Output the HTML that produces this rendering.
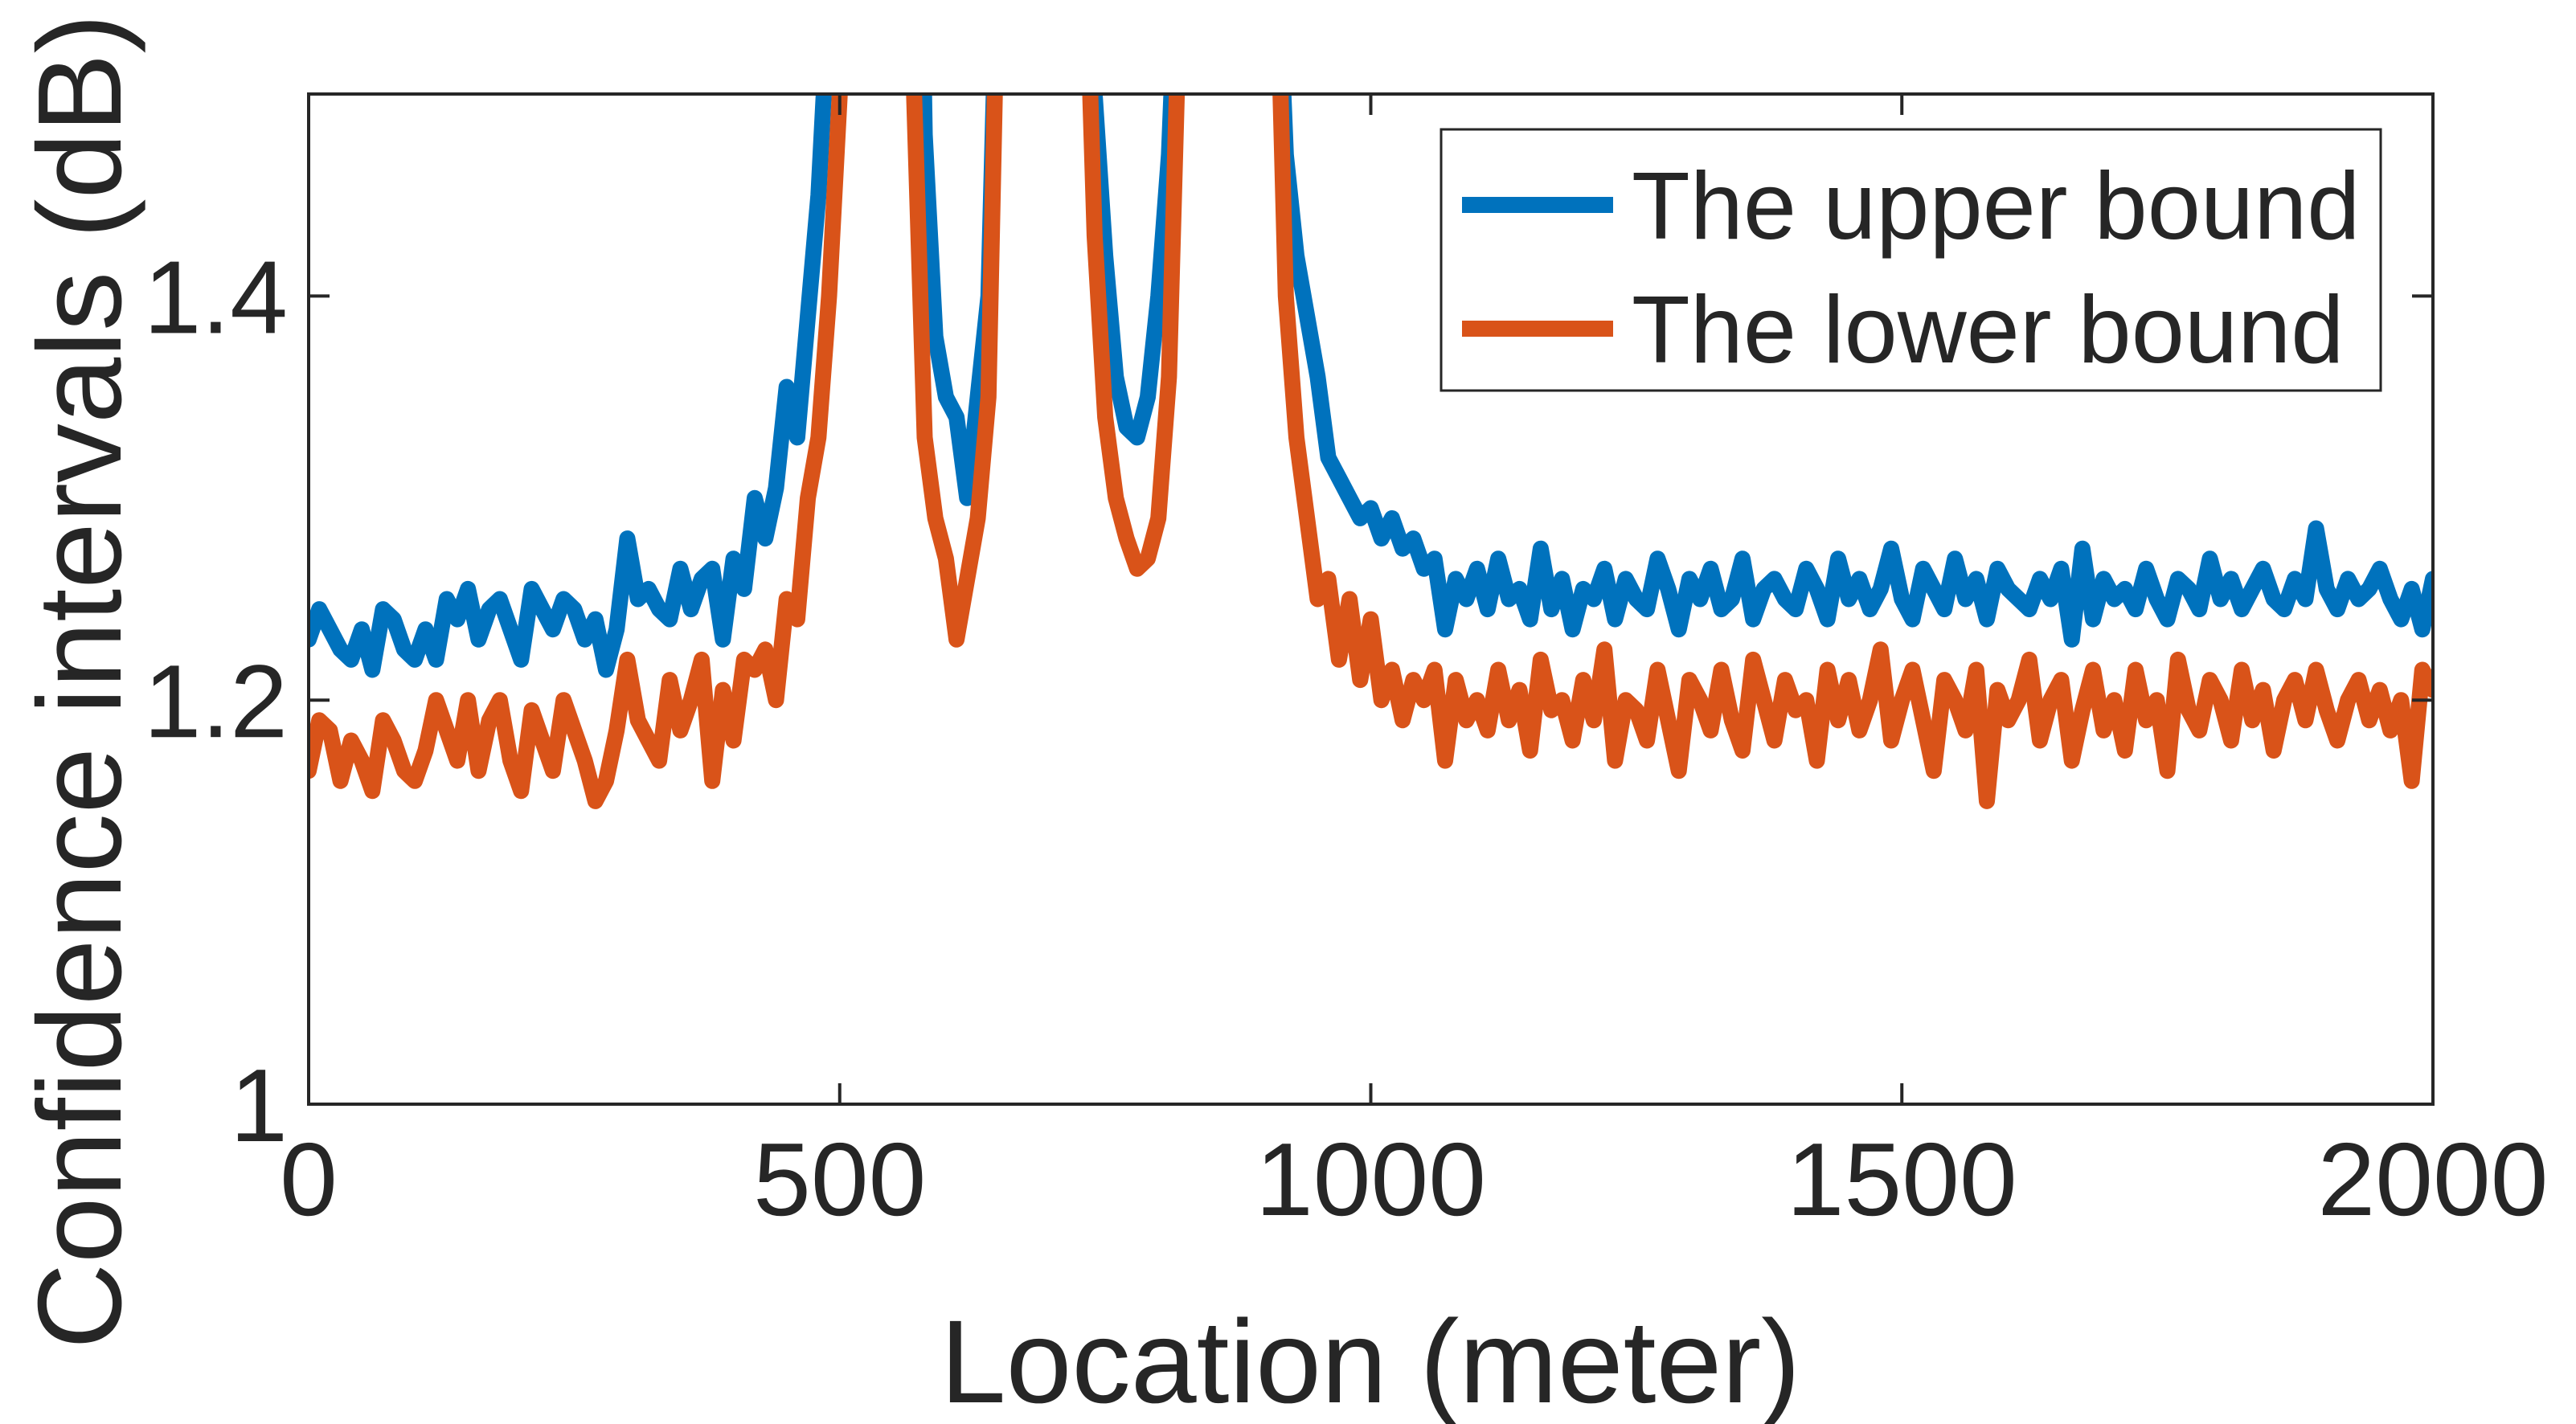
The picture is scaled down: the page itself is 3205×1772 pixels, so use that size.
<!DOCTYPE html>
<html><head><meta charset="utf-8"><style>
html,body{margin:0;padding:0;background:#fff;width:3205px;height:1772px;overflow:hidden}
svg{display:block}
text{font-family:"Liberation Sans",sans-serif;fill:#262626}
</style></head><body>
<svg id="chart" width="3205" height="1772" xmlns="http://www.w3.org/2000/svg">
<defs><clipPath id="plotclip"><rect x="384" y="117" width="2643" height="1257"/></clipPath></defs>
<g id="series" clip-path="url(#plotclip)"></g>
<g id="axes"></g>
<text x="1705" y="1745" font-size="147" text-anchor="middle">Location (meter)</text>
<text transform="translate(150,848) rotate(-90)" font-size="148" text-anchor="middle">Confidence intervals (dB)</text>
<g>
<rect x="1793" y="161" width="1169" height="325" fill="#fff" stroke="#262626" stroke-width="3"/>
<line x1="1819" y1="255" x2="2007" y2="255" stroke="#0072BD" stroke-width="20"/>
<text x="2030" y="297" font-size="119">The upper bound</text>
<line x1="1819" y1="409" x2="2007" y2="409" stroke="#D95319" stroke-width="20"/>
<text x="2030" y="451" font-size="119">The lower bound</text>
</g>
</svg>
<script>
const xTicks=[0,500,1000,1500,2000];
const yTicks=[1,1.2,1.4];
const yTickLabels=["1","1.2","1.4"];
const upper=[1.23,1.245,1.235,1.225,1.22,1.235,1.215,1.245,1.24,1.225,1.22,1.235,1.22,1.25,1.24,1.255,1.23,1.245,1.25,1.235,1.22,1.255,1.245,1.235,1.25,1.245,1.23,1.24,1.215,1.235,
1.28,1.25,1.255,1.245,1.24,1.265,1.245,1.26,1.265,1.23,1.27,1.255,1.3,1.28,1.305,1.355,1.33,1.39,1.45,1.55,
1.8,2,2,2,2,2,2,1.8,
1.48,1.38,1.35,1.34,1.30,1.35,1.4,
1.6,2,2,2,2,2,2,2,1.7,
1.5,1.42,1.36,1.335,1.33,1.35,1.40,1.47,
1.6,2,2,2,2,2,2,2,2,1.6,
1.47,1.42,1.39,1.36,1.32,1.31,1.30,1.29,1.295,1.28,1.29,1.275,1.28,1.265,1.27,1.235,
1.26,1.25,1.265,1.245,1.27,1.25,1.255,1.24,1.275,1.245,
1.26,1.235,1.255,1.25,1.265,1.24,1.26,1.25,1.245,1.27,
1.255,1.235,1.26,1.25,1.265,1.245,1.25,1.27,1.24,1.255,
1.26,1.25,1.245,1.265,1.255,1.24,1.27,1.25,1.26,1.245,
1.255,1.275,1.25,1.24,1.265,1.255,1.245,1.27,1.25,1.26,
1.24,1.265,1.255,1.25,1.245,1.26,1.25,1.265,1.23,1.275,
1.24,1.26,1.25,1.255,1.245,1.265,1.25,1.24,1.26,1.255,
1.245,1.27,1.25,1.26,1.245,1.255,1.265,1.25,1.245,1.26,
1.25,1.285,1.255,1.245,1.26,1.25,1.255,1.265,1.25,1.24,
1.255,1.235,1.26];
const lower=[1.165,1.19,1.185,1.16,1.18,1.17,1.155,1.19,1.18,1.165,1.16,1.175,1.2,1.185,1.17,1.2,1.165,1.19,1.2,1.17,1.155,1.195,1.18,1.165,1.2,1.185,1.17,1.15,1.16,1.185,
1.22,1.19,1.18,1.17,1.21,1.185,1.2,1.22,1.16,1.205,1.18,1.22,1.215,1.225,1.2,1.25,1.24,1.3,1.33,1.4,
1.5,2,2,2,2,2,1.8,
1.5,1.33,1.29,1.27,1.23,1.26,1.29,1.35,
1.6,2,2,2,2,2,2,2,1.6,
1.43,1.34,1.30,1.28,1.265,1.27,1.29,1.36,
1.55,2,2,2,2,2,2,2,2,1.6,
1.40,1.33,1.29,1.25,1.26,1.22,1.25,1.21,1.24,1.2,1.215,1.19,1.21,1.2,1.215,1.17,
1.21,1.19,1.2,1.185,1.215,1.19,1.205,1.175,1.22,1.195,
1.2,1.18,1.21,1.19,1.225,1.17,1.2,1.195,1.18,1.215,
1.19,1.165,1.21,1.2,1.185,1.215,1.19,1.175,1.22,1.2,
1.18,1.21,1.195,1.2,1.17,1.215,1.19,1.21,1.185,1.2,
1.225,1.18,1.2,1.215,1.19,1.165,1.21,1.2,1.185,1.215,
1.15,1.205,1.19,1.2,1.22,1.18,1.2,1.21,1.17,1.195,
1.215,1.185,1.2,1.175,1.215,1.19,1.2,1.165,1.22,1.195,
1.185,1.21,1.2,1.18,1.215,1.19,1.205,1.175,1.2,1.21,
1.19,1.215,1.195,1.18,1.2,1.21,1.19,1.205,1.185,1.2,
1.16,1.215,1.205];
const locStep=10;

const L=384,R=3027,T=117,B=1374;
const xMin=0,xMax=2000,yMin=1,yMax=1.5;
function sx(v){return L+(v-xMin)/(xMax-xMin)*(R-L);}
function sy(v){return B-(v-yMin)/(yMax-yMin)*(B-T);}
const NS="http://www.w3.org/2000/svg";
const series=document.getElementById('series');
const axes=document.getElementById('axes');

function drawLine(vals,color,name){
  const p=document.createElementNS(NS,'path');
  let d='';
  vals.forEach((v,i)=>{d+=(i?'L':'M')+sx(i*locStep).toFixed(1)+','+sy(v).toFixed(1);});
  p.setAttribute('d',d);
  p.setAttribute('fill','none');
  p.setAttribute('stroke',color);
  p.setAttribute('stroke-width','20');
  p.setAttribute('stroke-linejoin','round');
  p.setAttribute('stroke-linecap','round');
  
  
  series.appendChild(p);
}
drawLine(upper,'#0072BD','upper-bound-line');
drawLine(lower,'#D95319','lower-bound-line');

const box=document.createElementNS(NS,'rect');
box.setAttribute('x',L);box.setAttribute('y',T);
box.setAttribute('width',R-L);box.setAttribute('height',B-T);
box.setAttribute('fill','none');box.setAttribute('stroke','#262626');box.setAttribute('stroke-width','4');


axes.appendChild(box);

function mkLine(x1,y1,x2,y2){
  const l=document.createElementNS(NS,'line');
  l.setAttribute('x1',x1);l.setAttribute('y1',y1);l.setAttribute('x2',x2);l.setAttribute('y2',y2);
  l.setAttribute('stroke','#262626');l.setAttribute('stroke-width','4');
  return l;
}
xTicks.forEach(v=>{
  const x=sx(v);
  [mkLine(x,B,x,B-26),mkLine(x,T,x,T+26)].forEach(l=>{
    
    
    axes.appendChild(l);
  });
  const t=document.createElementNS(NS,'text');
  t.setAttribute('x',x);t.setAttribute('y',B+138);
  t.setAttribute('font-size','129');t.setAttribute('text-anchor','middle');
  t.textContent=String(v);
  
  
  axes.appendChild(t);
});
yTicks.forEach((v,i)=>{
  const y=sy(v);
  [mkLine(L,y,L+26,y),mkLine(R,y,R-26,y)].forEach(l=>{
    
    
    axes.appendChild(l);
  });
  const t=document.createElementNS(NS,'text');
  t.setAttribute('x',L-26);t.setAttribute('y',y+46);
  t.setAttribute('font-size','129');t.setAttribute('text-anchor','end');
  t.textContent=yTickLabels[i];
  
  
  axes.appendChild(t);
});
</script>
</body></html>
